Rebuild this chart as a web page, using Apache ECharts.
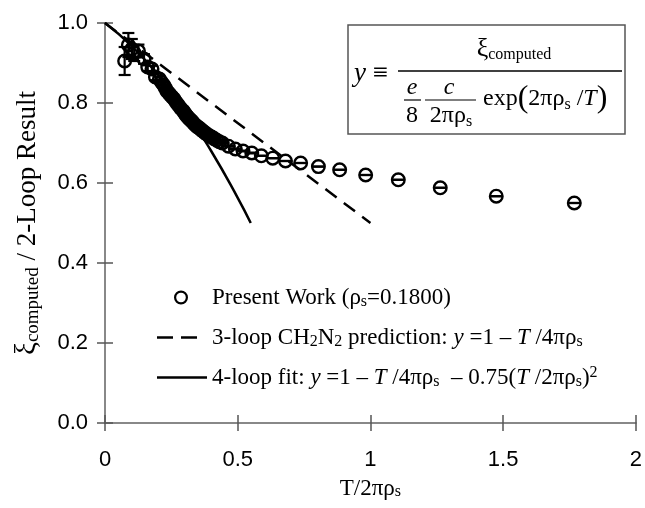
<!DOCTYPE html>
<html>
<head>
<meta charset="UTF-8">
<title>xi ratio</title>
<script src="https://cdn.jsdelivr.net/npm/echarts/dist/echarts.min.js"></script>
<style>
  html, body { margin: 0; height: 100%; background: #fff; }
  #chart { width: 645px; height: 508px; }
</style>
</head>
<body>
<div id="chart"></div>
<script>
// data
var ptX = [0.074, 0.088, 0.101, 0.110, 0.126, 0.147, 0.161, 0.177, 0.190, 0.205,
           0.213, 0.221, 0.227, 0.233, 0.240, 0.246, 0.253, 0.260, 0.268, 0.276,
           0.285, 0.295, 0.300, 0.305, 0.310, 0.316, 0.321, 0.327, 0.333, 0.340,
           0.347, 0.354, 0.361, 0.368, 0.376, 0.384, 0.393, 0.402, 0.411, 0.421,
           0.431, 0.442, 0.465, 0.491, 0.520, 0.553,
           0.589, 0.632, 0.680, 0.737, 0.804, 0.884, 0.982, 1.105, 1.263, 1.474, 1.768];
var ptY = [0.905, 0.945, 0.935, 0.925, 0.930, 0.910, 0.890, 0.885, 0.865, 0.860,
           0.852, 0.845, 0.838, 0.830, 0.825, 0.820, 0.815, 0.810, 0.802, 0.795,
           0.787, 0.780, 0.775, 0.770, 0.766, 0.762, 0.758, 0.755, 0.750, 0.745,
           0.741, 0.738, 0.734, 0.730, 0.726, 0.722, 0.718, 0.715, 0.711, 0.707,
           0.703, 0.700, 0.692, 0.685, 0.680, 0.675,
           0.668, 0.662, 0.655, 0.650, 0.641, 0.633, 0.620, 0.608, 0.588, 0.567, 0.550];
var ptErr = [0.035, 0.030, 0.025, 0.020, 0.016, 0.012, 0.010, 0.008, 0.008, 0.006,
             0.006, 0.006, 0.005, 0.005, 0.005, 0.005, 0.005, 0.005, 0.004, 0.004,
             0.004, 0.004, 0.004, 0.004, 0.003, 0.003, 0.003, 0.003, 0.003, 0.003,
             0.003, 0.003, 0.002, 0.002, 0.002, 0.002, 0.002, 0.002, 0.002, 0.002,
             0.002, 0.002, 0.001, 0.001, 0.001, 0.001,
             0, 0, 0, 0, 0, 0, 0, 0, 0, 0, 0];
var dashX = [0, 1];
var dashY = [1, 0.5];
var fitX = [0, 0.1, 0.2, 0.3, 0.4, 0.5, 0.549];
var fitY = [1, 0.943, 0.870, 0.783, 0.680, 0.563, 0.500];
var xTicks = [0, 0.5, 1, 1.5, 2];

var serif = 'Liberation Serif';
var sans = 'Liberation Sans';

function zip(a, b, c) {
  return a.map(function (v, i) { return c ? [v, b[i], c[i]] : [v, b[i]]; });
}

var legendNames = {
  present: 'Present Work ({t|ρ}{sub|s}{t|=0.1800)}',
  three: '3-loop CH{sub|2}N{sub|2} prediction: {i|y}{t| =1 – }{i|T}{t| /4πρ}{sub|s}',
  four: '4-loop fit: {i|y}{t| =1 – }{i|T}{t| /4πρ}{sub|s}{t|  – 0.75(}{i|T}{t| /2πρ}{sub|s}{t|)}{sup|2}'
};

// legend icons: tiny corner marks keep the icon box at 54x14
var box = 'M0,0 L0.01,0 L0,0.01 Z M54,14 L53.99,14 L54,13.99 Z ';
var iconRing = 'path://' + box + 'M21,7 A7,7 0 1,0 35,7 A7,7 0 1,0 21,7 Z M23.2,7 A4.8,4.8 0 1,1 32.8,7 A4.8,4.8 0 1,1 23.2,7 Z';
var iconSolid = 'path://' + box + 'M4,5.8 L54,5.8 L54,8.2 L4,8.2 Z';
var iconDash = 'path://' + box + 'M4,5.8 L20,5.8 L20,8.2 L4,8.2 Z M28,5.8 L44,5.8 L44,8.2 L28,8.2 Z';

function richSet(fs, lh, sf) {
  var s = Math.round(fs * (sf || 0.68));
  return {
    t: { fontFamily: serif, fontSize: fs, lineHeight: lh, color: '#000' },
    i: { fontFamily: serif, fontStyle: 'italic', fontSize: fs, lineHeight: lh, color: '#000' },
    sub: { fontFamily: serif, fontSize: s, lineHeight: s, verticalAlign: 'bottom', color: '#000' },
    sup: { fontFamily: serif, fontSize: s, lineHeight: s, verticalAlign: 'top', color: '#000' },
    xi: { fontFamily: serif, fontSize: fs + 2, lineHeight: lh, color: '#000' },
    p: { fontFamily: serif, fontSize: fs + 8, lineHeight: lh, color: '#000' }
  };
}

function xAx(inner) {
  return {
    type: 'value', min: 0, max: 2, interval: 0.5, position: 'bottom',
    splitLine: { show: false },
    axisLine: { show: !inner, lineStyle: { color: '#888', width: 2 } },
    axisTick: { inside: inner, length: 8, lineStyle: { color: '#555', width: 1.5 } },
    axisLabel: { show: !inner, margin: 26, fontFamily: sans, fontSize: 22, color: '#000',
      formatter: function (v) { return xTicks.indexOf(v) >= 0 ? String(v) : ''; } },
    name: inner ? '' : 'T/2πρ{sub|s}',
    nameLocation: 'middle', nameGap: 54,
    nameTextStyle: { fontFamily: serif, fontSize: 23, color: '#000', rich: richSet(23, 27) }
  };
}

function yAx(inner) {
  return {
    type: 'value', min: 0, max: 1, interval: 0.2, position: 'left',
    splitLine: { show: false },
    axisLine: { show: !inner, lineStyle: { color: '#888', width: 2 } },
    axisTick: { inside: inner, length: 8, lineStyle: { color: '#555', width: 1.5 } },
    axisLabel: { show: !inner, margin: 17, fontFamily: sans, fontSize: 22, color: '#000',
      formatter: function (v) { return v.toFixed(1); } },
    name: inner ? '' : '{xi|ξ}{sub|computed}{t| / 2-Loop Result}',
    nameLocation: 'middle', nameRotate: 90, nameGap: 62,
    nameTextStyle: { fontFamily: serif, fontSize: 27, color: '#000', rich: richSet(27, 31, 0.72) }
  };
}

var chart = echarts.init(document.getElementById('chart'), null, { renderer: 'canvas' });

var boxRich = richSet(24, 28);
var bigRich = richSet(27, 30);

chart.setOption({
  animation: false,
  backgroundColor: '#fff',
  grid: { left: 105, right: 9, top: 23, bottom: 85 },
  xAxis: [xAx(false), xAx(true)],
  yAxis: [yAx(false), yAx(true)],
  legend: {
    orient: 'vertical',
    left: 148, top: 280,
    itemWidth: 54, itemHeight: 14, itemGap: 15,
    textStyle: { fontFamily: serif, fontSize: 23, lineHeight: 25, color: '#000', rich: richSet(23, 25) },
    data: [
      { name: 'present', icon: iconRing, itemStyle: { color: '#000', borderWidth: 0 } },
      { name: 'three', icon: iconDash, itemStyle: { color: '#000', borderWidth: 0 } },
      { name: 'four', icon: iconSolid, itemStyle: { color: '#000', borderWidth: 0 } }
    ],
    formatter: function (n) { return legendNames[n]; }
  },
  graphic: [
    { type: 'rect', shape: { x: 348, y: 25, width: 277, height: 109 },
      style: { fill: '#fff', stroke: '#555', lineWidth: 1.5 }, z: 10 },
    { type: 'text', z: 11, style: { x: 354, y: 74, text: '{i|y}{t| ≡}', rich: bigRich,
      verticalAlign: 'middle', align: 'left' } },
    { type: 'text', z: 11, style: { x: 514, y: 49, text: '{xi|ξ}{sub|computed}', rich: boxRich,
      verticalAlign: 'middle', align: 'center' } },
    { type: 'line', z: 11, shape: { x1: 398, y1: 71, x2: 622, y2: 71 }, style: { stroke: '#000', lineWidth: 1.5 } },
    { type: 'text', z: 11, style: { x: 412, y: 88, text: '{i|e}', rich: boxRich, verticalAlign: 'middle', align: 'center' } },
    { type: 'line', z: 11, shape: { x1: 404, y1: 100, x2: 421, y2: 100 }, style: { stroke: '#000', lineWidth: 1.2 } },
    { type: 'text', z: 11, style: { x: 412, y: 116, text: '{t|8}', rich: boxRich, verticalAlign: 'middle', align: 'center' } },
    { type: 'text', z: 11, style: { x: 449, y: 88, text: '{i|c}', rich: boxRich, verticalAlign: 'middle', align: 'center' } },
    { type: 'line', z: 11, shape: { x1: 425, y1: 100, x2: 476, y2: 100 }, style: { stroke: '#000', lineWidth: 1.2 } },
    { type: 'text', z: 11, style: { x: 451, y: 116, text: '{t|2πρ}{sub|s}', rich: boxRich, verticalAlign: 'middle', align: 'center' } },
    { type: 'text', z: 11, style: { x: 483, y: 99, text: '{t|exp}{p|(}{t|2πρ}{sub|s}{t| /}{i|T}{p|)}', rich: boxRich,
      verticalAlign: 'middle', align: 'left' } }
  ],
  series: [
    {
      name: 'three', type: 'line', data: zip(dashX, dashY),
      symbol: 'none', color: '#000',
      lineStyle: { color: '#000', width: 2.5, type: [14, 9] }, z: 2
    },
    {
      name: 'four', type: 'line', data: zip(fitX, fitY), smooth: true,
      symbol: 'none', color: '#000',
      lineStyle: { color: '#000', width: 2.5 }, z: 2
    },
    {
      name: 'present', type: 'custom', color: '#000',
      data: zip(ptX, ptY, ptErr),
      encode: { x: 0, y: 1 },
      z: 3,
      renderItem: function (params, api) {
        var x = api.value(0), y = api.value(1), e = api.value(2);
        var c = api.coord([x, y]);
        var t = api.coord([x, y + e]);
        var b = api.coord([x, y - e]);
        var w = 6;
        var st = { stroke: '#000', lineWidth: 2.2 };
        return {
          type: 'group',
          children: [
            { type: 'circle', shape: { cx: c[0], cy: c[1], r: 6.3 }, style: { stroke: '#000', lineWidth: 2.4, fill: 'none' } },
            { type: 'line', shape: { x1: c[0], y1: t[1], x2: c[0], y2: b[1] }, style: st },
            { type: 'line', shape: { x1: c[0] - w, y1: t[1], x2: c[0] + w, y2: t[1] }, style: st },
            { type: 'line', shape: { x1: c[0] - w, y1: b[1], x2: c[0] + w, y2: b[1] }, style: st }
          ]
        };
      }
    }
  ]
});
</script>
</body>
</html>
